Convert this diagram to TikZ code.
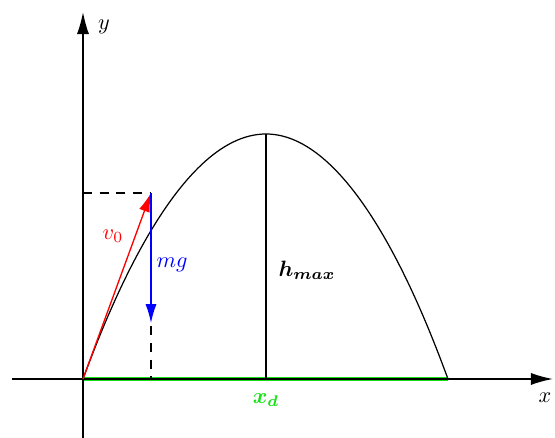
\documentclass[tikz,border=0pt]{standalone}
\usepackage{bm}
\usetikzlibrary{arrows.meta}
\definecolor{lgreen}{RGB}{20,225,20}
\begin{document}
\begin{tikzpicture}[x=0.45pt,y=0.45pt,
  axis/.style={line width=0.7pt,-{Latex[length=10pt,width=5.5pt]}},
  vec/.style={line width=0.6pt,-{Latex[length=8.5pt,width=5pt]}},
  dsh/.style={line width=0.6pt,dash pattern=on 4pt off 3.5pt},
  lbl/.style={inner sep=0pt}]
\useasboundingbox (-83,-59) rectangle (472,379);
\coordinate (O) at (0,0);
\coordinate (P) at (183,245);
\coordinate (E) at (365,0);
\coordinate (Pb) at (183,0);
\coordinate (V) at (68,186);
\coordinate (Vy) at (0,186);
\coordinate (Vx) at (68,0);
\coordinate (G) at (68,56);
\coordinate (xl) at (-71,0);
\coordinate (xr) at (470,0);
\coordinate (yb) at (0,-59);
\coordinate (yt) at (0,367);
% green base
\draw[lgreen,line width=2.2pt] (O) -- (E);
% axes
\draw[axis] (xl) -- (xr);
\draw[axis] (yb) -- (yt);
% parabola
\draw[line width=0.55pt] (O) parabola bend (P) (E);
\draw[line width=0.6pt] (P) -- (Pb);
% dashed
\draw[dsh] (Vy) -- (V);
\draw[dsh] (V) -- (Vx);
% vectors
\draw[vec,red] (O) -- (V);
\draw[vec,blue] (V) -- (G);
% labels
\node[lbl] (ly) at (21,352) {$y$};
\node[lbl] (lx) at (462,-19) {$x$};
\node[lbl,red] (lv) at (30,143) {$v_0$};
\node[lbl,blue] (lmg) at (89,114) {$mg$};
\node[lbl] (lh) at (224,109) {$\bm{h_{max}}$};
\node[lbl,lgreen] (lxd) at (183,-21) {$\bm{x_d}$};
\end{tikzpicture}
\end{document}
